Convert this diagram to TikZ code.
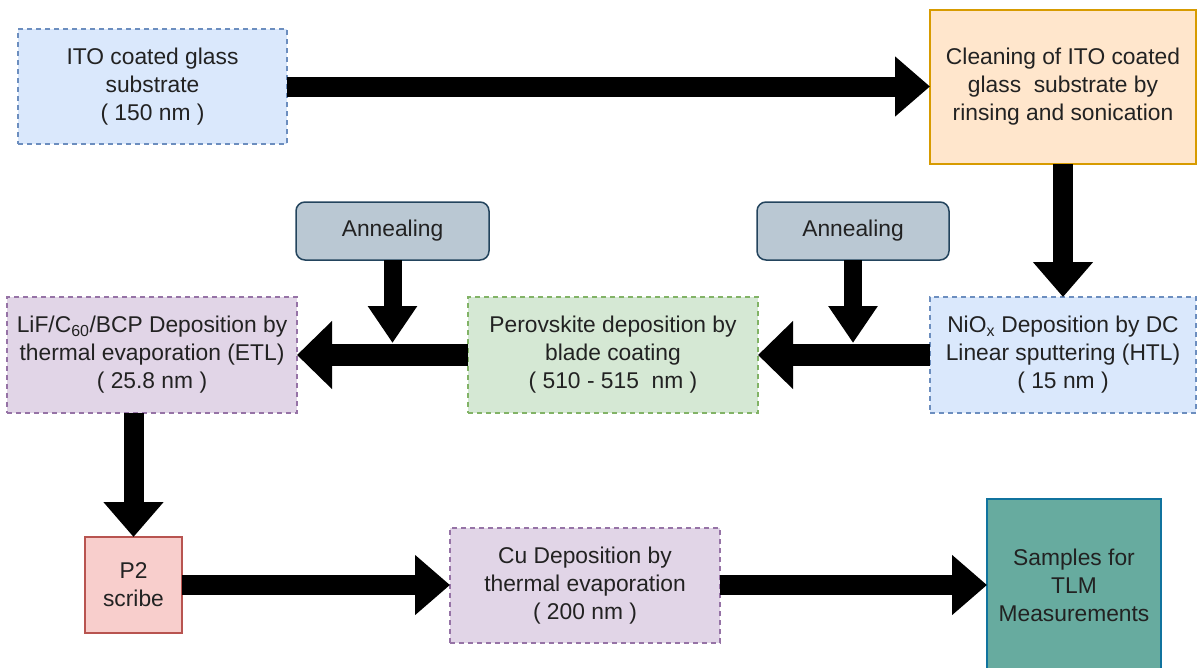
\documentclass[tikz,border=0pt]{standalone}
\usepackage{fontspec}
\setmainfont{Liberation Sans}
\usetikzlibrary{arrows.meta}
\definecolor{bluefill}{HTML}{DAE8FC}
\definecolor{bluedraw}{HTML}{6C8EBF}
\definecolor{orangefill}{HTML}{FFE6CC}
\definecolor{orangedraw}{HTML}{D79B00}
\definecolor{grayfill}{HTML}{BAC8D3}
\definecolor{graydraw}{HTML}{23445D}
\definecolor{greenfill}{HTML}{D5E8D4}
\definecolor{greendraw}{HTML}{82B366}
\definecolor{purplefill}{HTML}{E1D5E7}
\definecolor{purpledraw}{HTML}{9673A6}
\definecolor{redfill}{HTML}{F8CECC}
\definecolor{reddraw}{HTML}{B85450}
\definecolor{tealfill}{HTML}{67AB9F}
\definecolor{tealdraw}{HTML}{10739E}
\definecolor{txt}{HTML}{222222}
\tikzset{
  box/.style={draw, line width=1.5pt, inner sep=0pt, outer sep=0pt, align=center,
    text=txt, font=\fontsize{22.8}{28}\selectfont},
  dashbox/.style={box, dash pattern=on 5pt off 4pt},
  bluebox/.style={dashbox, fill=bluefill, draw=bluedraw},
  orangebox/.style={box, fill=orangefill, draw=orangedraw},
  annbox/.style={box, fill=grayfill, draw=graydraw, rounded corners=9pt},
  greenbox/.style={dashbox, fill=greenfill, draw=greendraw},
  purplebox/.style={dashbox, fill=purplefill, draw=purpledraw},
  redbox/.style={box, fill=redfill, draw=reddraw},
  tealbox/.style={box, fill=tealfill, draw=tealdraw},
  bigarrow/.style={line width=20pt, line cap=butt, -{Triangle[width=58pt,length=35pt]}},
  midarrow/.style={line width=22pt, line cap=butt, -{Triangle[width=66pt,length=35pt]}},
  annarrow/.style={line width=18pt, line cap=butt, -{Triangle[width=47pt,length=37pt]}},
}
\begin{document}
\begin{tikzpicture}[x=1pt,y=-1pt]
\useasboundingbox (0,0) rectangle (1198,667);
\node[bluebox, minimum width=269pt, minimum height=115pt] (ito) at (152.5,86.5)
  {ITO coated glass\\substrate\\( 150 nm )};
\node[orangebox, minimum width=266pt, minimum height=154pt] (clean) at (1063,87)
  {Cleaning of ITO coated\\glass\ \ substrate by\\rinsing and sonication};
\node[bluebox, minimum width=266pt, minimum height=116pt] (niox) at (1063,355)
  {NiO\textsubscript{x} Deposition by DC\\Linear sputtering (HTL)\\( 15 nm )};
\node[annbox, minimum width=192pt, minimum height=58pt] (ann2) at (853,231) {Annealing};
\node[greenbox, minimum width=290pt, minimum height=116pt] (perov) at (613,355)
  {Perovskite deposition by\\blade coating\\( 510 - 515\ \ nm )};
\node[annbox, minimum width=193pt, minimum height=58pt] (ann1) at (392.5,231) {Annealing};
\node[purplebox, minimum width=290pt, minimum height=116pt] (lif) at (152,355)
  {LiF/C\textsubscript{60}/BCP Deposition by\\thermal evaporation (ETL)\\( 25.8 nm )};
\node[redbox, minimum width=97pt, minimum height=96pt] (p2) at (133.5,585) {P2\\scribe};
\node[purplebox, minimum width=270pt, minimum height=115pt] (cu) at (585,585.5)
  {Cu Deposition by\\thermal evaporation\\( 200 nm )};
\node[tealbox, minimum width=174pt, minimum height=172pt] (tlm) at (1074,585)
  {Samples for\\TLM\\Measurements};
\coordinate (j2) at (853,343);
\coordinate (j1) at (392.5,343);
\draw[bigarrow] (ito.east) -- (ito.east -| clean.west);
\draw[bigarrow] (clean.south) -- (niox.north);
\draw[midarrow] (niox.west) -- (perov.east);
\draw[midarrow] (perov.west) -- (lif.east);
\draw[annarrow] (ann2.south) -- (j2);
\draw[annarrow] (ann1.south) -- (j1);
\draw[bigarrow] (p2.north |- lif.south) -- (p2.north);
\draw[bigarrow] (p2.east) -- (p2.east -| cu.west);
\draw[bigarrow] (cu.east |- tlm.west) -- (tlm.west);
\end{tikzpicture}
\end{document}
